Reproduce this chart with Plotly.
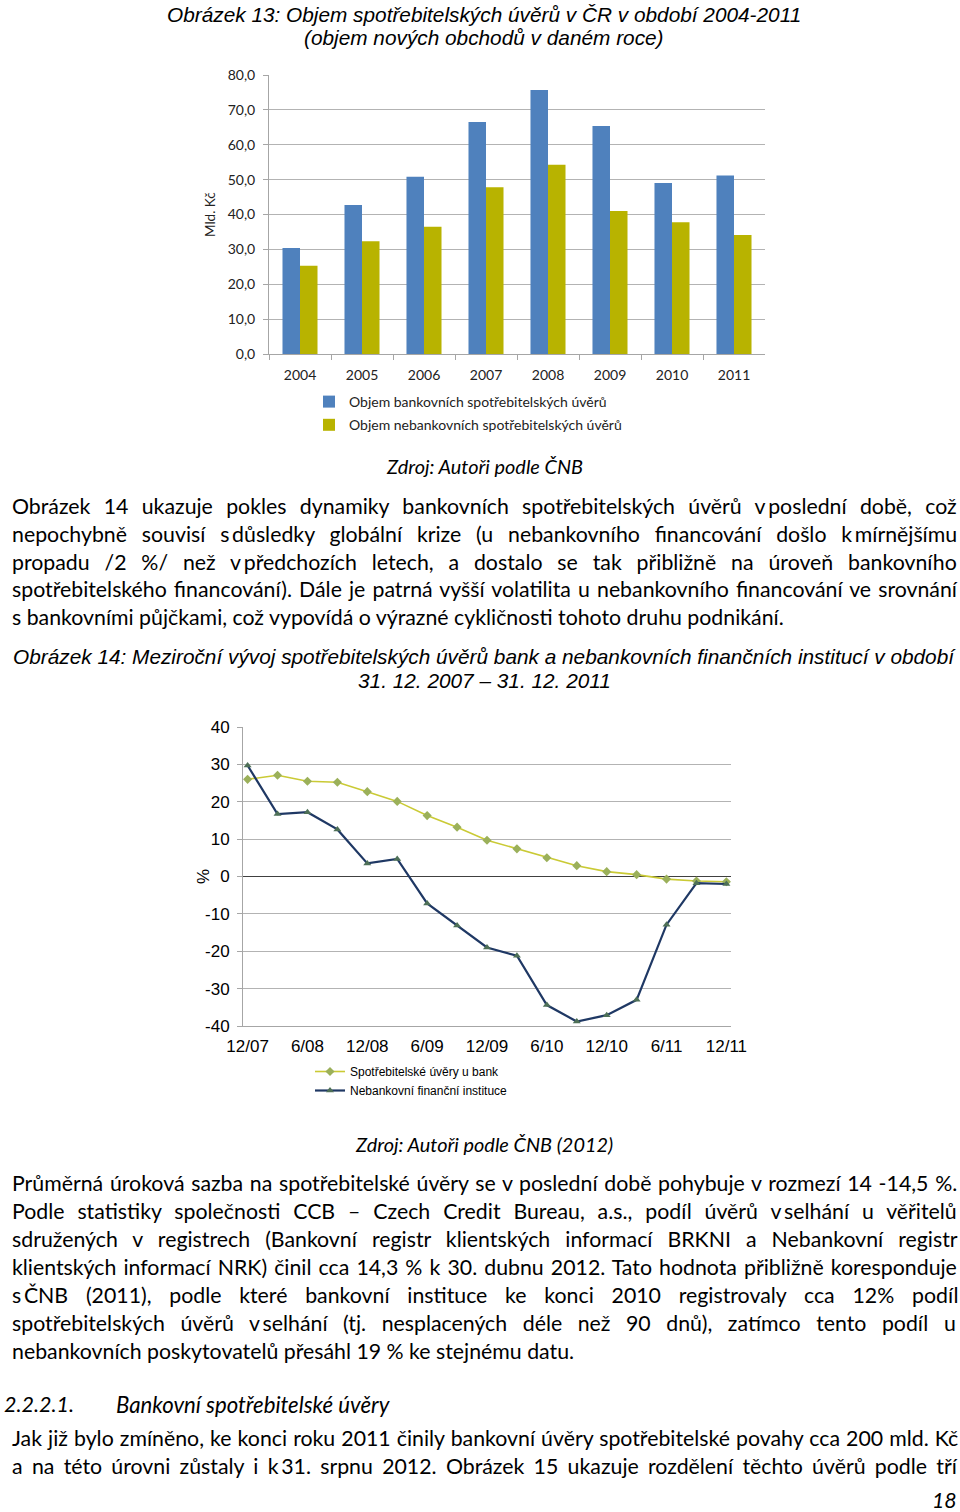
import plotly.graph_objects as go

# ---------------- data ----------------
years = ["2004", "2005", "2006", "2007", "2008", "2009", "2010", "2011"]
bank_volume = [30.4, 42.7, 50.8, 66.5, 75.7, 65.4, 49.0, 51.2]
nonbank_volume = [25.3, 32.3, 36.5, 47.8, 54.3, 41.0, 37.8, 34.1]

quarters = ["12/07", "3/08", "6/08", "9/08", "12/08", "3/09", "6/09", "9/09", "12/09",
            "3/10", "6/10", "9/10", "12/10", "3/11", "6/11", "9/11", "12/11"]
bank_growth = [26.0, 27.1, 25.5, 25.2, 22.7, 20.1, 16.3, 13.2, 9.7,
               7.4, 5.0, 2.9, 1.3, 0.5, -0.7, -1.2, -1.4]
nbfi_growth = [29.7, 16.7, 17.2, 12.6, 3.5, 4.7, -7.2, -13.1, -19.0,
               -21.2, -34.4, -38.8, -37.1, -33.0, -12.9, -1.8, -2.0]

y1_ticks = [0, 10, 20, 30, 40, 50, 60, 70, 80]
y2_ticks = [40, 30, 20, 10, 0, -10, -20, -30, -40]
y2_labels = ["40", "30", "20", "10", "0", "-10", "-20", "-30", "-40"]

NB = "\u2009"  # narrow, non-stretching gap after one-letter prepositions
para1 = [
    "Obrázek 14 ukazuje pokles dynamiky bankovních spotřebitelských úvěrů v" + NB + "poslední době, což",
    "nepochybně souvisí s" + NB + "důsledky globální krize (u nebankovního financování došlo k" + NB + "mírnějšímu",
    "propadu /2 %/ než v" + NB + "předchozích letech, a dostalo se tak přibližně na úroveň bankovního",
    "spotřebitelského financování). Dále je patrná vyšší volatilita u nebankovního financování ve srovnání",
    "s bankovními půjčkami, což vypovídá o výrazné cykličnosti tohoto druhu podnikání.",
]
para1_ws = [7.85, 9.37, 9.42, 1.65, 0]
para2 = [
    "Průměrná úroková sazba na spotřebitelské úvěry se v poslední době pohybuje v rozmezí 14 -14,5 %.",
    "Podle statistiky společnosti CCB – Czech Credit Bureau, a.s., podíl úvěrů v" + NB + "selhání u věřitelů",
    "sdružených v registrech (Bankovní registr klientských informací BRKNI a Nebankovní registr",
    "klientských informací NRK) činil cca 14,3 % k 30. dubnu 2012. Tato hodnota přibližně koresponduje",
    "s" + NB + "ČNB (2011), podle které bankovní instituce ke konci 2010 registrovaly cca 12% podíl",
    "spotřebitelských úvěrů v" + NB + "selhání (tj. nesplacených déle než 90 dnů), zatímco tento podíl u",
    "nebankovních poskytovatelů přesáhl 19 % ke stejnému datu.",
]
para2_ws = [1.25, 7.45, 9.6, 1.64, 12.3, 10.1, 0]
para3 = [
    "Jak již bylo zmíněno, ke konci roku 2011 činily bankovní úvěry spotřebitelské povahy cca 200 mld. Kč",
    "a na této úrovni zůstaly i k" + NB + "31. srpnu 2012. Obrázek 15 ukazuje rozdělení těchto úvěrů podle tří",
]
para3_ws = [0.63, 3.84]

# ---------------- layout helpers ----------------
W, H = 960, 1512
def X(px):
    return px / W
def Y(py):
    return 1 - py / H

BODY = "Lato"
ARIAL = "Liberation Sans"
BLUE = "#4F81BD"
OLIVE = "#B8B300"
BODY_SIZE = 21.3
TITLE_SIZE = 20.8

fig = go.Figure()

fig.add_trace(go.Bar(x=years, y=bank_volume, name="Objem bankovních spotřebitelských úvěrů",
                     marker=dict(color=BLUE, line=dict(width=0)), xaxis="x", yaxis="y",
                     legend="legend", legendgroup="a"))
fig.add_trace(go.Bar(x=years, y=nonbank_volume, name="Objem nebankovních spotřebitelských úvěrů",
                     marker=dict(color=OLIVE, line=dict(width=0)), xaxis="x", yaxis="y",
                     legend="legend", legendgroup="b"))

fig.add_trace(go.Scatter(x=quarters, y=bank_growth, name="Spotřebitelské úvěry u bank",
                         mode="lines+markers", line=dict(color="#CACA35", width=1.6),
                         marker=dict(symbol="diamond", size=7, color="#9BB05A"),
                         xaxis="x2", yaxis="y2", legend="legend2"))
fig.add_trace(go.Scatter(x=quarters, y=nbfi_growth, name="Nebankovní finanční instituce",
                         mode="lines+markers", line=dict(color="#1F3864", width=2.2),
                         marker=dict(symbol="triangle-up", size=7, color="#4E7057"),
                         xaxis="x2", yaxis="y2", legend="legend2"))

annotations = []
def txt(s, x, y, size, family=BODY, xanchor="left", italic=False, angle=0, color="black", ws=0):
    if ws:
        s = '<span style="word-spacing:%.2fpx">%s</span>' % (ws, s)
    if italic:
        s = "<i>" + s + "</i>"
    annotations.append(dict(text=s, x=X(x), y=Y(y), xref="paper", yref="paper",
                            xanchor=xanchor, yanchor="middle", showarrow=False,
                            textangle=angle, font=dict(family=family, size=size, color=color)))

# Titles and sources
txt("Obrázek 13: Objem spotřebitelských úvěrů v ČR v období 2004-2011", 484, 14, TITLE_SIZE, ARIAL, "center", True)
txt("(objem nových obchodů v daném roce)", 484, 38, TITLE_SIZE, ARIAL, "center", True)
txt("Mld. Kč", 210, 215, 13.5, BODY, "center", angle=-90, color="#222")
txt("Zdroj: Autoři podle ČNB", 484, 466, 19.9, BODY, "center", True)

txt("Obrázek 14: Meziroční vývoj spotřebitelských úvěrů bank a nebankovních finančních institucí v období",
    484, 656, TITLE_SIZE, ARIAL, "center", True)
txt("31. 12. 2007 – 31. 12. 2011", 484, 680, TITLE_SIZE, ARIAL, "center", True)
txt("%", 203, 877, 17, ARIAL, "center", angle=-90)
txt("Zdroj: Autoři podle ČNB (2012)", 484, 1144, 19.9, BODY, "center", True)

for i, line in enumerate(para1):
    txt(line, 10, 506 + i * 27.8, BODY_SIZE, ws=para1_ws[i])
for i, line in enumerate(para2):
    txt(line, 10, 1183 + i * 28, BODY_SIZE, ws=para2_ws[i])
txt("2.2.2.1.", 2, 1404, 21.5, BODY, "left", True)
txt("Bankovní spotřebitelské úvěry", 114, 1404, 22.2, BODY, "left", True)
for i, line in enumerate(para3):
    txt(line, 10, 1438 + i * 28, BODY_SIZE, ws=para3_ws[i])
txt("18", 959, 1500, BODY_SIZE, BODY, "right", True)

fig.update_layout(
    width=W, height=H, margin=dict(l=0, r=0, t=0, b=0, autoexpand=False),
    paper_bgcolor="white", plot_bgcolor="white",
    separators=", ",
    barmode="group", bargap=0.435, bargroupgap=0,
    annotations=annotations,
    xaxis=dict(domain=[X(269), X(765)], anchor="y", type="category", automargin=False,
               showline=True, linecolor="#A6A6A6", linewidth=1,
               ticks="outside", ticklen=5, tickcolor="#A6A6A6", tickson="boundaries",
               showgrid=False, ticklabelstandoff=8,
               tickfont=dict(family=BODY, size=14, color="#222")),
    yaxis=dict(domain=[Y(354), Y(75)], anchor="x", range=[0, 80], automargin=False,
               tickvals=y1_ticks, tickformat=".1f",
               showline=True, linecolor="#A6A6A6", linewidth=1,
               ticks="outside", ticklen=5, tickcolor="#A6A6A6",
               showgrid=True, gridcolor="#B3B3B3", gridwidth=1, zeroline=False,
               ticklabelstandoff=5,
               tickfont=dict(family=BODY, size=14, color="#222")),
    xaxis2=dict(domain=[X(243), X(731)], anchor="y2", type="category", automargin=False,
                range=[-0.154, 16.154], tickvals=quarters[::2],
                showline=True, linecolor="#A6A6A6", linewidth=1,
                ticks="", showgrid=False, ticklabelstandoff=5,
                tickfont=dict(family=ARIAL, size=17, color="black")),
    yaxis2=dict(domain=[Y(1026), Y(727)], anchor="x2", range=[-40, 40], automargin=False,
                tickvals=y2_ticks, ticktext=y2_labels,
                showline=True, linecolor="#A6A6A6", linewidth=1,
                ticks="outside", ticklen=5, tickcolor="#A6A6A6",
                showgrid=True, gridcolor="#B3B3B3", gridwidth=1,
                zeroline=True, zerolinecolor="#404040", zerolinewidth=1.3,
                ticklabelstandoff=4,
                tickfont=dict(family=ARIAL, size=17, color="black")),
    legend=dict(x=X(309), y=Y(386), xanchor="left", yanchor="top",
                orientation="v", bgcolor="rgba(0,0,0,0)", tracegroupgap=2,
                font=dict(family=BODY, size=14, color="#222")),
    legend2=dict(x=X(310), y=Y(1057), xanchor="left", yanchor="top",
                 orientation="v", bgcolor="rgba(0,0,0,0)",
                 font=dict(family=ARIAL, size=12, color="black")),
)

fig.write_html("out.html")
